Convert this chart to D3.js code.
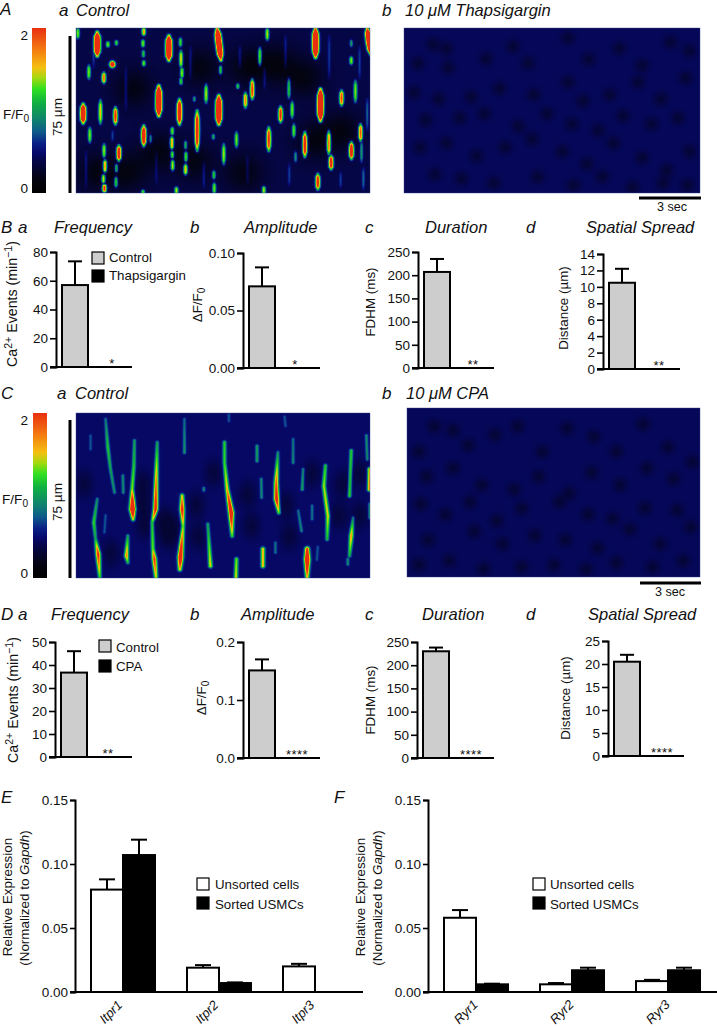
<!DOCTYPE html>
<html><head><meta charset="utf-8">
<script src="https://cdn.jsdelivr.net/npm/d3@7/dist/d3.min.js"></script>
<style>html,body{margin:0;padding:0;background:#fff}svg{display:block}
text{font-family:"Liberation Sans",Arial,sans-serif;fill:#111}</style></head><body>
<svg id="fig" width="717" height="1027"></svg>
<script>
// ---------- data: colour key (level, colour)
const keyLevels=[0,.08,.2,.24,.3,.37,.44,.55,.63,.7,.76,.86,1];
const keyColors=["#000000","#03030f","#05064a","#060868","#0a1f86","#0d5a8a","#0f8070","#10b040","#30e020","#a8d810","#f4c010","#f58010","#e83010"];

// ---------- data: line-scan events, panel A control: [sec, top µm, bottom µm, peak, optional end sec]
const eventsAControl=[
[1.09,76.7,65.6,1.5],[1.65,72,70,.5],[2.1,72.5,71,.45],[1.89,62,61,1.2],[.07,78.7,73.9,.5],[.65,61,54.6,.5],[1.44,57.5,52.7,.75],
[3.54,78.7,75.5,.65],[3.5,73,70,.5],[3.52,68,65,.4],[3.54,63,61,.5],[4.86,75,63.5,1.5],[5.47,74,70,.45],[5.5,68,60,.6],[5.55,60,55,.55],[5.5,55,52,.45],
[7.4,78.7,63.5,1.5,7.6],[7.58,60.9,56.9,.45],
[10.04,78.7,73,.55],[9.65,69.5,60.9,.55],[12.58,78.7,64.8,1.5],[14.46,73,70,.3],[14.46,65,61.6,.5],[15.3,78.7,66.3,1.4,15.5],
[4.33,51.2,37,1.5],[5.42,44.8,32.9,1.1],[6.82,52,43.2,.55],[1.26,44.4,33.3,.6],[2.05,41,33,.85],[.35,42.5,33.6,1.3],[7.49,46.5,33,1.5],
[8.89,48,40.9,.7],[9.25,54.4,45,.85],[8.49,52,50.2,.45],[11.18,54.9,45.4,.45],[11.35,43.8,36,.5],[10.74,41.3,34,.85],[12.84,49.7,34.6,1.5],
[13.95,49,41.9,.8],[14.68,53.7,43.5,.5],[14.95,33,25,.8],[11.44,33,26.7,.5],[.7,31.4,24.3,.5],[3.54,32.2,22.7,1.1],
[5.04,31.4,28,.5],[5.02,27,21,.7],[5.04,20,17,.55],[5.06,16,11,.6],
[6.35,39.4,20.3,.95],[5.74,25,21,.4],[5.76,20,15,.55],[5.74,14,9,.7],[8.42,29.2,22,.5],[7.75,23.5,13.8,.55],[10.12,31.4,20.3,.85],[12.02,29.2,17.5,1],[13.28,29.8,18.7,.8],
[13.4,18,11.6,.95],[14.47,24.4,16.5,1],[2.23,22.7,15.6,1],[1.45,23.5,17,.55],[1.5,16,10,.75],[1.42,9,5,.65],[1.47,4,1,.9],[2.1,14,10,.45],[2.08,8,3,.5],[12.7,9.2,2,.9],[7.23,10.8,7,.45],[7.25,5,0,.5],
[3.5,1.3,0,.5],[5.26,2.9,0,.55],[9.86,3.2,0,.55],[11.53,20,15,.3],[15,25,15,.3],[3.9,28,24,.3],[7.2,28,26,.35],[6.2,46,44,.3],
[.9,76,60,.15],[2.6,60,40,.15],[6,70,55,.15],[8.6,70,60,.15],[9.9,60,50,.15],[11,75,60,.15],[13.3,75,55,.15],[14.9,70,55,.15],[15.3,45,30,.2],
[1.9,30,25,.15],[4.2,20,5,.12],[6.7,15,3,.15],[9,18,5,.12],[11.2,14,4,.15],[13.9,10,3,.15],[15.1,12,2,.2],[.5,20,3,.15]
];
// ---------- data: line-scan events, panel C control: polylines of [sec, µm, peak]
const eventsCControl=[
[[1.53,75.9,.2],[1.65,62.4,.42],[1.79,52,.32],[2,41,.25]],
[[2.44,48.9,.25],[2.46,41,.25]],
[[3.05,65.6,.3],[3.02,53.7,.42],[2.93,42.5,.55],[2.95,33,1.4],[2.98,28.3,.6]],
[[4.25,64.8,.3],[4.19,45.7,.75],[4.16,33,1],[3.98,26.7,.45],[4.02,14,.5],[4.1,9.2,.9],[4.19,0,.55]],
[[1.09,37.8,.25],[.91,26.7,.45],[1,19,.32],[1.14,11.6,.95],[1.23,0,.4]],
[[2.7,20.3,.3],[2.63,10.8,.75],[2.7,7.6,.35]],
[[5.56,39.4,.6],[5.56,33,1],[5.61,25,.5],[5.47,10,1.2],[5.44,4.4,.65]],
[[5.68,75.9,.18],[5.68,60,.28]],
[[7.79,64.8,.42],[7.79,55.2,.45],[7.93,42.5,.65],[8.14,31.4,1.15],[8.19,20.3,.45]],
[[6.91,25.9,.32],[7.05,6,.62]],
[[8.42,9.2,.5],[8.39,0,.6]],
[[9.81,14,.65],[9.81,6,.65]],
[[9.5,63,.3],[9.5,56,.3]],
[[10.6,60,.25],[10.51,45.7,.8],[10.53,37.8,1.05],[10.65,31.4,.5]],
[[9.72,47.3,.25],[9.74,38.6,.25]],
[[11.4,66.3,.2],[11.4,55.2,.25]],
[[11.93,52,.25],[11.88,42.5,.32]],
[[13.1,53.7,.42],[13.02,44,.55],[13.23,29.8,.62],[13.19,18.7,.38]],
[[14.46,60.8,.42],[14.37,39.4,.45]],
[[15.26,68,.25],[15.3,56.8,.25]],
[[15.42,52,.65],[15.42,42.5,.75]],
[[15.44,35.4,.3],[15.44,29,.3]],
[[14.56,29,.25],[14.46,20.3,.7],[14.37,10.8,.35]],
[[12.14,14,.9],[12.14,9.2,1.3],[12.14,0,.6]],
[[11.67,32.2,.2],[11.84,22.7,.25]],
[[12.4,34.6,.2],[12.4,28.3,.2]],
[[10.47,17,.2],[10.47,12.4,.2]],
[[1.53,30,.15],[1.47,22,.15]],
[[.74,68,.15],[.74,61.6,.15]],
[[6.7,43,.25],[6.7,42,.25]],
[[14.28,9.2,.25],[14.28,6.8,.25]],
[[10.95,77,.15],[11,72.7,.15]],
[[8.02,78,.15],[8.02,75,.15]],
[[12.7,15,.15],[12.65,9,.15]]
];
// ---------- data: dark patches in the baseline [sec, µm]
const darkAControl=[[4.3,20],[6.2,15],[9,60],[10.5,62],[12,55],[2.7,10],[8.8,10],[12.5,25],[3,50],[6.5,60],[14,30],[1,10]];
const darkCControl=[[4.6,28],[5,24],[4.8,20],[3.5,35],[3.5,45],[3.6,25],[6.3,35],[6.4,20],[9,40],[9.2,25],[11,35],[11.2,20],[13.8,30],[14,45],[12.4,50],[1.8,12],[.4,45],[7.2,50],[14.9,30],[14.9,50]];
const darkThapsigargin=[[1.5,71],[2.2,69],[.7,62],[2.3,60],[4.3,64],[5.7,70],[6.5,62],[8.6,74],[9.7,64],[11.3,69],[12.5,61],[14,72],[15,68],[.5,48],[1.8,45],[3.5,46],[5,50],[6.8,47],[8.6,53],[9.4,44],[10.8,47],[12.3,53],[13.5,45],[14.8,55],
[1.1,35],[2.9,36],[4.2,38],[6,32],[7.5,38],[8.8,33],[10.2,30],[11.5,37],[13,33],[14.4,36],[.8,22],[2.2,24],[3.8,18],[5.3,22],[6.7,26],[8.3,20],[9.6,14],[11,24],[12.5,17],[13.8,11],[15,20],[1.6,9],[3,7],[4.7,5],[7,8],[8.9,4],[10.4,8],[12,3],[13.6,5],[14.9,4]];
const darkCPA=[[1.4,72],[2.4,70],[.6,60],[3.2,63],[4.6,68],[5.8,72],[7.1,60],[8.4,71],[9.8,67],[11,60],[12.4,73],[13.7,62],[15,55],[1,48],[2.4,52],[3.9,44],[5.6,42],[6.9,48],[8.5,40],[9.7,50],[11.2,44],[12.6,52],[14,47],
[.7,35],[2,30],[3.3,36],[4.7,27],[6,33],[8,36],[9.5,30],[10.8,28],[12.5,33],[14.2,32],[1.1,18],[3.5,22],[5,16],[6.7,20],[8.3,18],[10,14],[11.7,23],[13.3,16],[14.9,24],[.6,6],[2.2,8],[4,4],[6,5],[7.7,6],[9.4,4],[11,7],[12.9,5],[14.5,8]];

// ---------- data: summary bar charts
const ticksFreqB=[0,20,40,60,80], meansFreqB=[57,0], topsFreqB=[73.5,0];
const ticksAmpB=[0,.05,.1], meansAmpB=[.071,0], topsAmpB=[.0875,0];
const ticksDurB=[0,50,100,150,200,250], meansDurB=[207,0], topsDurB=[235,0];
const ticksSpreadB=[0,2,4,6,8,10,12,14], meansSpreadB=[10.5,0], topsSpreadB=[12.2,0];
const ticksFreqD=[0,10,20,30,40,50], meansFreqD=[36.7,0], topsFreqD=[46,0];
const ticksAmpD=[0,.1,.2], meansAmpD=[.151,0], topsAmpD=[.17,0];
const ticksDurD=[0,50,100,150,200,250], meansDurD=[230,0], topsDurD=[238,0];
const ticksSpreadD=[0,5,10,15,20,25], meansSpreadD=[20.5,0], topsSpreadD=[22,0];
const itprGenes=["Itpr1","Itpr2","Itpr3"], itprUnsorted=[.08,.019,.02], itprUnsortedTop=[.088,.021,.022], itprSorted=[.107,.007,0], itprSortedTop=[.119,.0075,0];
const ryrGenes=["Ryr1","Ryr2","Ryr3"], ryrUnsorted=[.058,.006,.0085], ryrUnsortedTop=[.064,.007,.0095], ryrSorted=[.006,.017,.017], ryrSortedTop=[.0065,.019,.019];
const ticksExpr=[0,.05,.1,.15];

const svg=d3.select("#fig");
const color=d3.scaleLinear().domain(keyLevels).range(keyColors).interpolate(d3.interpolateRgb).clamp(true);

function txt(x,y,s,o={}){const t=svg.append("text").attr("x",x).attr("y",y).text(s)
 .attr("font-size",o.size||13.4).attr("font-style",o.italic?"italic":null).attr("text-anchor",o.anchor||"start");
 if(o.rot!=null)t.attr("transform",`rotate(${o.rot} ${x} ${y})`);return t;}
function rich(x,y,parts,o={}){const t=svg.append("text").attr("x",x).attr("y",y).attr("font-size",o.size||13.4).attr("text-anchor",o.anchor||"middle");
 if(o.rot!=null)t.attr("transform",`rotate(${o.rot} ${x} ${y})`);
 let last=0;parts.forEach(p=>{const shift=p.sup?-5:p.sub?3:0;const s=t.append("tspan").text(p.t).attr("dy",shift-last);
  if(p.sup||p.sub)s.attr("font-size",(o.size||13.4)*.75);if(p.it)s.attr("font-style","italic");last=shift;});return t;}
const TS=16.5;

// ---------- heat maps
function heat(box,opts){
 const w=box.x1-box.x0,h=box.y1-box.y0;
 const xs=d3.scaleLinear().domain([0,w/19]).range([0,w]);
 const ys=d3.scaleLinear().domain([0,h/2.1]).range([h,0]);
 const cv=document.createElement("canvas");cv.width=w;cv.height=h;const c=cv.getContext("2d");const img=c.createImageData(w,h);
 const segs=[];(opts.streaks||[]).forEach(st=>{for(let i=0;i<st.length-1;i++){segs.push({ax:xs(st[i][0]),ay:ys(st[i][1]),ap:st[i][2],bx:xs(st[i+1][0]),by:ys(st[i+1][1]),bp:st[i+1][2]});}});
 const dark=(opts.dark||[]).map(d=>[xs(d[0]),ys(d[1])]);
 for(let y=0;y<h;y++)for(let x=0;x<w;x++){
  let g=0;
  for(const s of segs){const dx=s.bx-s.ax,dy=s.by-s.ay,l=dx*dx+dy*dy;let u=l?((x-s.ax)*dx+(y-s.ay)*dy)/l:0;u=Math.max(0,Math.min(1,u));
   const px=s.ax+u*dx,py=s.ay+u*dy,d2=(x-px)**2+(y-py)**2;const p=s.ap+(s.bp-s.ap)*u;
   const sg=1.0+.8*Math.min(p,1.4);if(d2>40)continue;const v=p*Math.exp(-d2/(2*sg*sg));if(v>g)g=v;}
  let d=0;for(const q of dark){const d2=((x-q[0])/opts.darkRx)**2+((y-q[1])/opts.darkRy)**2;if(d2<9)d+=Math.exp(-d2/2);}
  const L=opts.bg-opts.depth*Math.min(d,1.4)+g*opts.gain;
  const rgb=d3.rgb(color(L));const k=(y*w+x)*4;img.data[k]=rgb.r;img.data[k+1]=rgb.g;img.data[k+2]=rgb.b;img.data[k+3]=255;
 }
 c.putImageData(img,0,0);
 svg.append("image").attr("x",box.x0).attr("y",box.y0).attr("width",w).attr("height",h).attr("href",cv.toDataURL());
 svg.append("rect").attr("x",box.x0).attr("y",box.y0).attr("width",w).attr("height",h).attr("fill","none").attr("stroke","#3d4a8a").attr("stroke-opacity",.7).attr("stroke-width",.6);
}
const asLines=ev=>ev.map(e=>{const t2=e[4]!=null?e[4]:e[0];const f=[0,.2,.5,.8,1],a=[.4,.9,1,.9,.4];
 return f.map((u,i)=>[e[0]+(t2-e[0])*u,e[1]+(e[2]-e[1])*u,e[3]*a[i]]);});
heat({x0:76,y0:28,x1:370,y1:193},{streaks:asLines(eventsAControl),dark:darkAControl,bg:.19,depth:.1,gain:1,darkRx:14,darkRy:14});
heat({x0:404,y0:28,x1:700,y1:193},{dark:darkThapsigargin,bg:.22,depth:.06,gain:1,darkRx:4.5,darkRy:4.5});
heat({x0:76,y0:413,x1:370,y1:578},{streaks:eventsCControl,dark:darkCControl,bg:.235,depth:.06,gain:.85,darkRx:6,darkRy:9});
heat({x0:407,y0:408,x1:700,y1:577},{dark:darkCPA,bg:.22,depth:.06,gain:1,darkRx:4.5,darkRy:4.5});

// ---------- colour keys
const defs=svg.append("defs");const gr=defs.append("linearGradient").attr("id","key").attr("x1",0).attr("x2",0).attr("y1",1).attr("y2",0);
gr.selectAll("stop").data(keyLevels).join("stop").attr("offset",d=>d).attr("stop-color",(d,i)=>keyColors[i]);
function keyBar(x,y0,y1,lab2,lab0,fx,fy){
 svg.append("rect").attr("x",x).attr("y",y0).attr("width",14).attr("height",y1-y0).attr("fill","url(#key)");
 txt(28,lab2,"2",{anchor:"end",size:13.6});txt(28,lab0,"0",{anchor:"end",size:13.6});
 rich(fx,fy,[{t:"F/F"},{t:"0",sub:1}],{anchor:"start",size:13.6});
}
keyBar(32,28,193,40,193,3,119);keyBar(33,413,578,425,578,2,504);
function lenBar(y0,y1,cy){svg.append("line").attr("x1",70).attr("x2",70).attr("y1",y0).attr("y2",y1).attr("stroke","#000").attr("stroke-width",3);
 txt(62,cy,"75 µm",{anchor:"middle",rot:-90,size:13.6});}
lenBar(36,193,117);lenBar(420,578,502);
function timeBar(x0,x1,y,tx,ty){svg.append("line").attr("x1",x0).attr("x2",x1).attr("y1",y).attr("y2",y).attr("stroke","#000").attr("stroke-width",3);
 txt(tx,ty,"3 sec",{anchor:"middle",size:12.6});}
timeBar(639,701,198,672,211);timeBar(640,701,583,670,596);

// ---------- panel text
[["A",0,15],["a",59,16],["Control",76,16],["b",382,16],["10 μM Thapsigargin",405,16],
 ["B",1,233],["a",18,233],["Frequency",54,233],["b",190,233],["Amplitude",244,233],["c",365,233],["Duration",425,233],["d",526,233],["Spatial Spread",586,233],
 ["C",1,399],["a",57,399],["Control",75,399],["b",382,399],["10 μM CPA",406,399],
 ["D",1,620],["a",18,620],["Frequency",51,620],["b",190,620],["Amplitude",241,620],["c",365,620],["Duration",422,620],["d",526,620],["Spatial Spread",588,620],
 ["E",1,803],["F",334,803]].forEach(d=>txt(d[1],d[2],d[0],{italic:true,size:/^[A-Fa-d]$/.test(d[0])?17:TS}));

// ---------- summary bars
function summary(o){
 const y=d3.scaleLinear().domain([0,o.ticks[o.ticks.length-1]]).range([o.y0,o.y1]);
 const x=d3.scaleBand().domain(["Control","Treatment"]).range([o.x+6,o.x+58]);
 const g=svg.append("g");
 const ax=g.append("g").attr("transform",`translate(${o.x},0)`).call(d3.axisLeft(y).tickValues(o.ticks).tickFormat(d3.format(o.fmt)).tickSize(6).tickPadding(2));
 ax.selectAll("path").attr("stroke","#000").attr("stroke-width",2);ax.selectAll("line").attr("stroke","#000").attr("stroke-width",1.6);
 ax.selectAll("text").attr("font-size",13.5).attr("fill","#111");
 g.append("line").attr("x1",o.x-6).attr("x2",o.end).attr("y1",y(0)).attr("y2",y(0)).attr("stroke","#000").attr("stroke-width",2);
 g.selectAll("line.err").data(x.domain().filter((d,i)=>o.means[i]>0)).join("line").attr("class","err").attr("x1",d=>x(d)+x.bandwidth()/2).attr("x2",d=>x(d)+x.bandwidth()/2)
  .attr("y1",(d,i)=>y(o.means[i])).attr("y2",(d,i)=>y(o.tops[i])).attr("stroke","#000").attr("stroke-width",2);
 g.selectAll("line.cap").data(x.domain().filter((d,i)=>o.means[i]>0)).join("line").attr("class","cap").attr("x1",d=>x(d)+6).attr("x2",d=>x(d)+20)
  .attr("y1",(d,i)=>y(o.tops[i])).attr("y2",(d,i)=>y(o.tops[i])).attr("stroke","#000").attr("stroke-width",2);
 g.selectAll("rect").data(x.domain().filter((d,i)=>o.means[i]>0)).join("rect").attr("x",d=>x(d)).attr("width",x.bandwidth()).attr("y",(d,i)=>y(o.means[i])).attr("height",(d,i)=>y(0)-y(o.means[i]))
  .attr("fill","#cdcdcd").attr("stroke","#000").attr("stroke-width",2);
 const st=txt(o.starX,y(0)+1,o.stars,{anchor:"middle",size:13});st.attr("letter-spacing",.5);
}
const fmtCa=[{t:"Ca"},{t:"2+",sup:1},{t:" Events (min"},{t:"−1",sup:1},{t:")"}];
const fmtDF=[{t:"ΔF/F"},{t:"0",sub:1}];
summary({x:56,y0:367,y1:252,ticks:ticksFreqB,means:meansFreqB,tops:topsFreqB,fmt:"d",end:132,starX:112,stars:"*"});
summary({x:243,y0:368,y1:253,ticks:ticksAmpB,means:meansAmpB,tops:topsAmpB,fmt:".2f",end:320,starX:295,stars:"*"});
summary({x:418,y0:368,y1:252,ticks:ticksDurB,means:meansDurB,tops:topsDurB,fmt:"d",end:494,starX:473,stars:"**"});
summary({x:603,y0:369,y1:254,ticks:ticksSpreadB,means:meansSpreadB,tops:topsSpreadB,fmt:"d",end:680,starX:659,stars:"**"});
summary({x:55,y0:757,y1:642,ticks:ticksFreqD,means:meansFreqD,tops:topsFreqD,fmt:"d",end:132,starX:108,stars:"**"});
summary({x:243,y0:758,y1:642,ticks:ticksAmpD,means:meansAmpD,tops:topsAmpD,fmt:".1f",end:320,starX:297,stars:"****"});
summary({x:417,y0:758,y1:642,ticks:ticksDurD,means:meansDurD,tops:topsDurD,fmt:"d",end:494,starX:471,stars:"****"});
summary({x:608,y0:756,y1:641,ticks:ticksSpreadD,means:meansSpreadD,tops:topsSpreadD,fmt:"d",end:684,starX:662,stars:"****"});
rich(17,304,fmtCa,{rot:-90,size:14.2});rich(202,305,fmtDF,{rot:-90});txt(375,302,"FDHM (ms)",{anchor:"middle",rot:-90});txt(568,308,"Distance (µm)",{anchor:"middle",rot:-90});
rich(18,700,fmtCa,{rot:-90,size:14.2});rich(206,698,fmtDF,{rot:-90});txt(375,700,"FDHM (ms)",{anchor:"middle",rot:-90});txt(570,698,"Distance (µm)",{anchor:"middle",rot:-90});

function legend(x,tx,y1,y2,b1,b2,size,l1,l2,fill1){
 svg.append("rect").attr("x",x).attr("y",y1).attr("width",12).attr("height",12).attr("fill",fill1).attr("stroke","#000").attr("stroke-width",1.2);
 svg.append("rect").attr("x",x).attr("y",y2).attr("width",12).attr("height",12).attr("fill","#000").attr("stroke","#000").attr("stroke-width",1.2);
 txt(tx,b1,l1,{size});txt(tx,b2,l2,{size});
}
legend(92,109,252,270,262,280,13.3,"Control","Thapsigargin","#cdcdcd");
legend(99,116,640,660,652,671,13.3,"Control","CPA","#cdcdcd");
legend(197,215,878,897,889,909,13.3,"Unsorted cells","Sorted USMCs","#fff");
legend(533,550,878,897,889,909,13.3,"Unsorted cells","Sorted USMCs","#fff");

// ---------- expression charts
function expr(o){
 const y=d3.scaleLinear().domain([0,.15]).range([992,800]);
 const x=d3.scaleBand().domain(o.genes).range([o.start,o.start+256]).paddingInner(1/3).paddingOuter(0);
 const inner=d3.scaleBand().domain([0,1]).range([0,x.bandwidth()]);
 const g=svg.append("g");
 const ax=g.append("g").attr("transform",`translate(${o.x},0)`).call(d3.axisLeft(y).tickValues(ticksExpr).tickFormat(d3.format(".2f")).tickSize(5).tickPadding(2));
 ax.selectAll("path").attr("stroke","#000").attr("stroke-width",2);ax.selectAll("line").attr("stroke","#000").attr("stroke-width",1.6);
 ax.selectAll("text").attr("font-size",13.5).attr("fill","#111");
 g.append("line").attr("x1",o.x-5).attr("x2",o.end).attr("y1",y(0)).attr("y2",y(0)).attr("stroke","#000").attr("stroke-width",2);
 [[o.a,o.at,"#fff",0],[o.b,o.bt,"#000",1]].forEach(([m,t,f,k])=>{
  const vis=o.genes.map((d,i)=>({gene:d,m:m[i],t:t[i]})).filter(d=>d.m>0);
  const cx=d=>x(d.gene)+inner(k)+inner.bandwidth()/2;
  g.selectAll(null).data(vis).join("line").attr("x1",cx).attr("x2",cx).attr("y1",d=>y(d.m)).attr("y2",d=>y(d.t)).attr("stroke","#000").attr("stroke-width",2);
  g.selectAll(null).data(vis).join("line").attr("x1",d=>cx(d)-8).attr("x2",d=>cx(d)+8).attr("y1",d=>y(d.t)).attr("y2",d=>y(d.t)).attr("stroke","#000").attr("stroke-width",2);
  g.selectAll(null).data(vis).join("rect").attr("x",d=>x(d.gene)+inner(k)).attr("width",inner.bandwidth()).attr("y",d=>y(d.m)).attr("height",d=>y(0)-y(d.m)).attr("fill",f).attr("stroke","#000").attr("stroke-width",2);
 });
 o.genes.forEach(d=>txt(x(d)+x.bandwidth()/2+o.lab,1015,d,{italic:true,size:13,anchor:"middle",rot:-45}));
 txt(o.t1,897,"Relative Expression",{anchor:"middle",rot:-90,size:13.4});
 rich(o.t2,898,[{t:"(Normalized to "},{t:"Gapdh",it:1},{t:")"}],{rot:-90,size:13.4});
}
expr({x:75,start:91,end:363,genes:itprGenes,a:itprUnsorted,at:itprUnsortedTop,b:itprSorted,bt:itprSortedTop,lab:-9,t1:12,t2:29});
expr({x:428,start:444,end:717,genes:ryrGenes,a:ryrUnsorted,at:ryrUnsortedTop,b:ryrSorted,bt:ryrSortedTop,lab:-7,t1:365,t2:382});
</script></body></html>
